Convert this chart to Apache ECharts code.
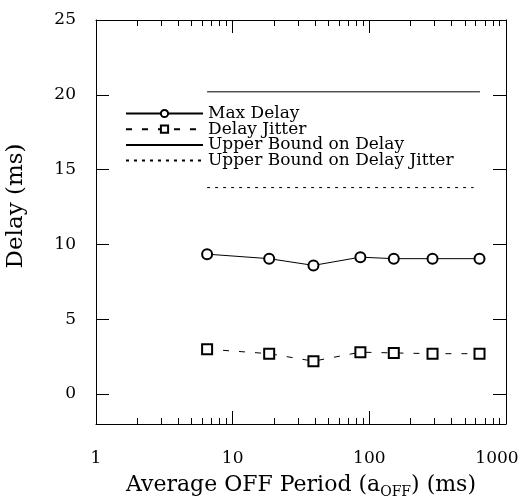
<!DOCTYPE html>
<html><head><meta charset="utf-8">
<script src="https://cdn.jsdelivr.net/npm/echarts@6/dist/echarts.min.js"></script>
<style>html,body{margin:0;padding:0;background:#fff}#c{width:523px;height:502px}</style>
</head><body><div id="c"></div>
<script>
const offPeriod = [6.5, 18.5, 39, 86, 151, 290, 640];
const maxDelay = [9.35, 9.05, 8.6, 9.15, 9.05, 9.05, 9.05];
const delayJitter = [3.0, 2.7, 2.2, 2.8, 2.75, 2.7, 2.7];
const boundDelayX = [6.5, 645];
const boundDelayY = [20.2, 20.2];
const boundJitterX = [6.5, 580];
const boundJitterY = [13.8, 13.8];
const yTicks = [0, 5, 10, 15, 20, 25];
const seriesNames = ['Max Delay', 'Delay Jitter', 'Upper Bound on Delay', 'Upper Bound on Delay Jitter'];

const FONT = 'DejaVu Serif';
const pairs = (xs, ys) => xs.map((x, i) => [x, ys[i]]);

const chart = echarts.init(document.getElementById('c'), null, {renderer: 'canvas'});
const xCommon = {
  type: 'log', logBase: 10, min: 1, max: 1000,
  axisLine: {show: true, onZero: false, lineStyle: {color: '#000', width: 1}},
  axisTick: {show: true, inside: true, length: 13, lineStyle: {color: '#000'}},
  minorTick: {show: true, splitNumber: 9, length: 6, lineStyle: {color: '#000'}},
  splitLine: {show: false}, minorSplitLine: {show: false}
};
const yCommon = {
  type: 'value', min: -2, max: 25,
  axisLine: {show: true, onZero: false, lineStyle: {color: '#000', width: 1}},
  axisTick: {show: true, inside: true, length: 13, customValues: yTicks, lineStyle: {color: '#000'}},
  splitLine: {show: false}
};
const hideSym = {opacity: 0, color: 'transparent', borderColor: 'transparent'};
chart.setOption({
  animation: false,
  backgroundColor: '#fff',
  textStyle: {fontFamily: FONT, color: '#000'},
  grid: {left: 96, right: 17, top: 20, bottom: 78, containLabel: false, outerBoundsMode: 'none'},
  legend: {
    orient: 'vertical', left: 125, top: 105, padding: 0,
    itemWidth: 77, itemHeight: 9, itemGap: -1.3,
    data: [
      {name: seriesNames[0]},
      {name: seriesNames[1]},
      {name: seriesNames[2], itemStyle: hideSym},
      {name: seriesNames[3], itemStyle: hideSym}
    ],
    textStyle: {fontFamily: FONT, fontSize: 17, color: '#000', lineHeight: 14.5}
  },
  xAxis: [
    Object.assign({}, xCommon, {
      position: 'bottom',
      axisLabel: {show: true, fontFamily: FONT, fontSize: 17, color: '#000', margin: 26,
        formatter: v => (Math.round(v) === 1000 ? '{last|1000}' : String(Math.round(v))),
        rich: {last: {fontFamily: FONT, fontSize: 17, color: '#000', padding: [0, 18, 0, 0]}}},
      name: 'Average OFF Period (a{sub|OFF}) (ms)',
      nameLocation: 'middle', nameGap: 48,
      nameTextStyle: {fontFamily: FONT, fontSize: 22, color: '#000',
        rich: {sub: {fontFamily: FONT, fontSize: 14, verticalAlign: 'bottom', padding: [13, 0, 0, 0]}}}
    }),
    Object.assign({}, xCommon, {position: 'top', axisLabel: {show: false}})
  ],
  yAxis: [
    Object.assign({}, yCommon, {
      position: 'left',
      axisLabel: {show: true, fontFamily: FONT, fontSize: 17, color: '#000', margin: 20,
        customValues: yTicks},
      name: 'Delay (ms)', nameLocation: 'middle', nameGap: 68,
      nameTextStyle: {fontFamily: FONT, fontSize: 23, color: '#000', padding: [0, 0, 0, 32]}
    }),
    Object.assign({}, yCommon, {position: 'right', axisLabel: {show: false}})
  ],
  series: [
    {name: seriesNames[0], type: 'line', data: pairs(offPeriod, maxDelay),
      symbol: 'emptyCircle', symbolSize: 10, color: '#000',
      lineStyle: {color: '#000', width: 1}, itemStyle: {color: '#000', borderWidth: 1}},
    {name: seriesNames[1], type: 'line', data: pairs(offPeriod, delayJitter),
      symbol: 'emptyRect', symbolSize: 10, color: '#000',
      lineStyle: {color: '#000', width: 1, type: [6, 10]}, itemStyle: {color: '#000', borderWidth: 1}},
    {name: seriesNames[2], type: 'line', data: pairs(boundDelayX, boundDelayY),
      symbol: 'none', color: '#000', lineStyle: {color: '#000', width: 1}},
    {name: seriesNames[3], type: 'line', data: pairs(boundJitterX, boundJitterY),
      symbol: 'none', color: '#000', lineStyle: {color: '#000', width: 1, type: [3, 5]}}
  ]
});
</script></body></html>
